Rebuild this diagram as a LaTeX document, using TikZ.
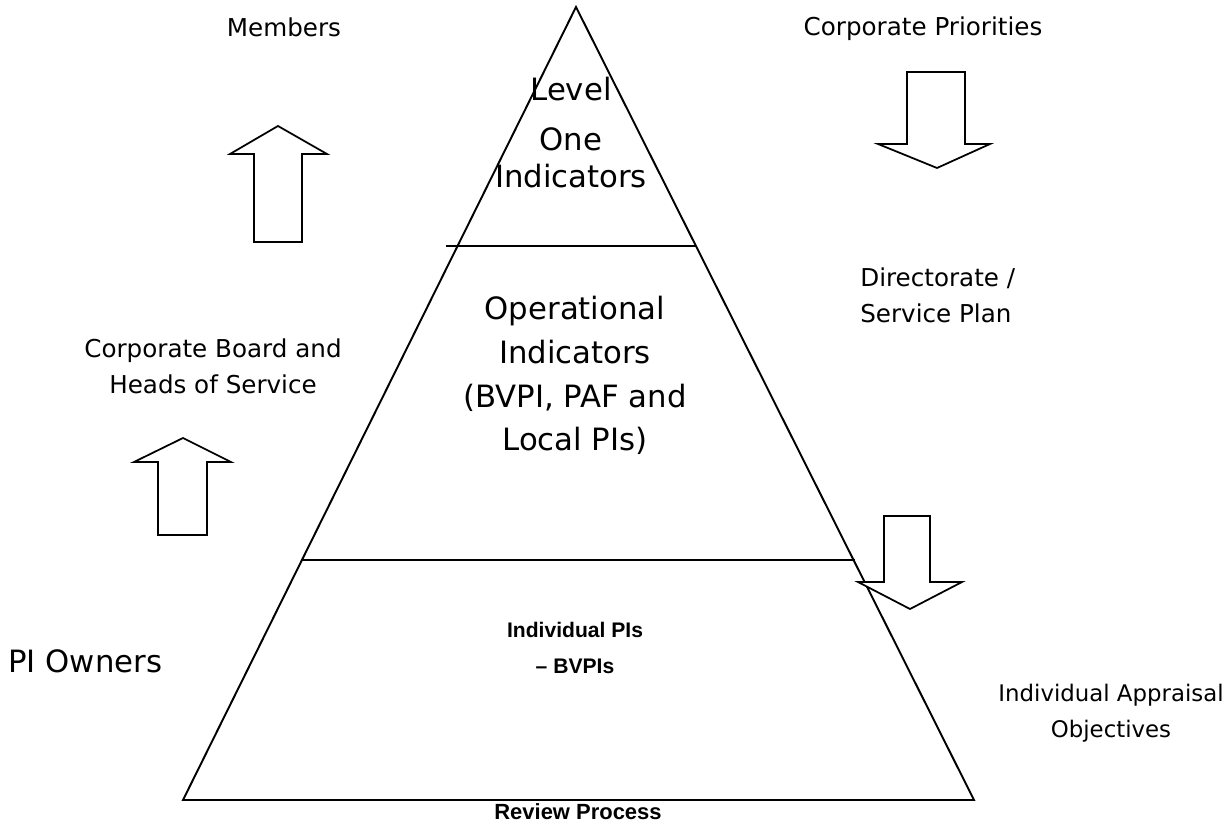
\documentclass[tikz,border=0pt]{standalone}
\usepackage{fontspec}
\setmainfont{DejaVu Sans}
\newfontfamily\arialfont{Liberation Sans}
\usetikzlibrary{calc}

\tikzset{
  sidelabel/.style={font=\fontsize{14}{21}\selectfont, align=center, inner sep=0pt},
  tierlabel/.style={font=\fontsize{17.5}{25}\selectfont, align=center, inner sep=0pt},
  boldlabel/.style={font=\arialfont\bfseries\fontsize{12}{20}\selectfont, align=center, inner sep=0pt},
  blockarrow/.style={draw=black, line width=1pt, line join=miter, fill=white},
  pyramidline/.style={draw=black, line width=1.1pt, line join=miter},
}

\begin{document}
\begin{tikzpicture}

\useasboundingbox (0,0) rectangle (24.52,16.48);

% ── Pyramid ──────────────────────────────────────────────────────────────────
\coordinate (apex)  at (11.52,16.34);
\coordinate (baseL) at (3.66,0.48);
\coordinate (baseR) at (19.48,0.48);

\draw[pyramidline] (apex) -- (baseL) -- (baseR) -- cycle;

% tier dividers
\draw[pyramidline] (8.92,11.56) -- (13.92,11.56);
\draw[pyramidline] (6.04,5.28) -- (17.10,5.28);

% ── Tier texts (anchored on the last line) ───────────────────────────────────
\node[tierlabel, anchor=base] (levelone) at (11.42,12.72)
  {Level\\[3.4pt]One\\[-3.4pt]Indicators};

\node[tierlabel, anchor=base] (operational) at (11.50,7.46)
  {Operational\\Indicators\\(BVPI, PAF and\\Local PIs)};

\node[boldlabel, anchor=base] (individual) at (11.50,3.02)
  {Individual PIs\\– BVPIs};

\node[boldlabel, font=\arialfont\bfseries\fontsize{12.5}{20}\selectfont, anchor=base]
  (review) at (11.56,0.10) {Review Process};

% ── Left side ────────────────────────────────────────────────────────────────
\node[sidelabel, anchor=base] (members) at (5.68,15.74) {Members};

\node[sidelabel, anchor=base] (board) at (4.26,8.60)
  {Corporate Board and\\Heads of Service};

\node[tierlabel, anchor=base west] (owners) at (0.16,3.04) {PI Owners};

% upward block arrows
\draw[blockarrow] (5.08,11.64) -- (5.08,13.40) -- (4.60,13.40) -- (5.56,13.96)
  -- (6.54,13.40) -- (6.04,13.40) -- (6.04,11.64) -- cycle;
\draw[blockarrow] (3.16,5.78) -- (3.16,7.24) -- (2.68,7.24) -- (3.66,7.72)
  -- (4.62,7.24) -- (4.14,7.24) -- (4.14,5.78) -- cycle;

% ── Right side ───────────────────────────────────────────────────────────────
\node[sidelabel, anchor=base] (priorities) at (18.46,15.76) {Corporate Priorities};

\node[sidelabel, anchor=base west, align=left] (directorate) at (17.20,10.02)
  {Directorate /\\Service Plan};

\node[sidelabel, font=\fontsize{13}{20}\selectfont, anchor=base] (appraisal)
  at (22.22,1.74) {Individual Appraisal\\Objectives};

% downward block arrows
\draw[blockarrow] (18.14,15.04) -- (18.14,13.60) -- (17.56,13.60) -- (18.74,13.12)
  -- (19.80,13.60) -- (19.30,13.60) -- (19.30,15.04) -- cycle;
\draw[blockarrow] (17.68,6.16) -- (17.68,4.84) -- (17.16,4.84) -- (18.20,4.30)
  -- (19.24,4.84) -- (18.60,4.84) -- (18.60,6.16) -- cycle;

\end{tikzpicture}
\end{document}
